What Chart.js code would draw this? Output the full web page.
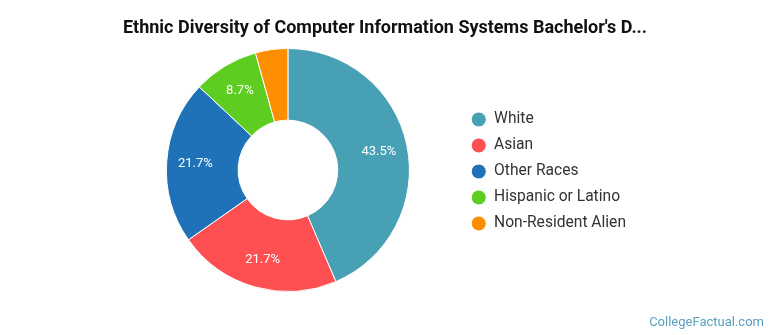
<!DOCTYPE html>
<html lang="en">
  <head>
    <meta charset="UTF-8" />
    <title>Ethnic Diversity</title>
    <script src="https://cdn.jsdelivr.net/npm/chart.js"></script>
    <style>
      body { margin: 0; background: #fff; font-family: Roboto, sans-serif; }
      #wrap { position: relative; width: 770px; height: 335px; }
      #title {
        position: absolute; left: 0; top: 18px; width: 770px;
        text-align: center; font: bold 18px/18px Roboto, sans-serif; color: #111;
      }
      #credit {
        position: absolute; right: 6px; top: 314px;
        font: 13px/16px Roboto, sans-serif; color: #5a9fbd;
      }
    </style>
  </head>
  <body>
    <div id="wrap">
      <canvas id="chart" width="770" height="335"></canvas>
      <div id="title">Ethnic Diversity of Computer Information Systems Bachelor's D...</div>
      <div id="credit">CollegeFactual.com</div>
    </div>
    <script>
      const groups = ["White", "Asian", "Other Races", "Hispanic or Latino", "Non-Resident Alien"];
      const shares = [43.5, 21.7, 21.7, 8.7, 4.3];
      const colors = ["#48a0b4", "#fe5052", "#1f71b8", "#5ecd22", "#fd8e00"];

      // percentage text inside each slice big enough to hold it
      const sliceLabels = {
        id: "sliceLabels",
        afterDatasetsDraw(chart) {
          const ctx = chart.ctx;
          const meta = chart.getDatasetMeta(0);
          ctx.save();
          ctx.font = "13px Roboto, sans-serif";
          ctx.fillStyle = "#fff";
          ctx.textAlign = "center";
          ctx.textBaseline = "middle";
          meta.data.forEach((arc, i) => {
            if (shares[i] < 5) return;
            const p = arc.getProps(["x", "y", "startAngle", "endAngle", "innerRadius", "outerRadius"], true);
            const a = (p.startAngle + p.endAngle) / 2;
            const r = p.innerRadius + (p.outerRadius - p.innerRadius) * 0.6;
            ctx.fillText(shares[i] + "%", p.x + Math.cos(a) * r, p.y + Math.sin(a) * r);
          });
          ctx.restore();
        },
      };

      new Chart(document.getElementById("chart"), {
        type: "doughnut",
        data: {
          labels: groups,
          datasets: [{
            data: shares,
            backgroundColor: colors,
            borderColor: "#fff",
            borderWidth: 1,
          }],
        },
        options: {
          responsive: false,
          animation: false,
          devicePixelRatio: 1,
          cutout: "41%",
          layout: { padding: { left: 115, right: 134, top: 48, bottom: 43 } },
          plugins: {
            tooltip: { enabled: false },
            legend: {
              position: "right",
              // empty title only nudges the item column down a little
              title: { display: true, text: "", font: { size: 1, lineHeight: 1 }, padding: { top: 2, bottom: 0 } },
              labels: {
                usePointStyle: true,
                pointStyle: "circle",
                pointStyleWidth: 15,
                boxHeight: 10.6,
                padding: 10.4,
                color: "#333",
                font: { family: "Roboto", size: 15.6 },
              },
            },
          },
        },
        plugins: [sliceLabels],
      });
    </script>
  </body>
</html>
